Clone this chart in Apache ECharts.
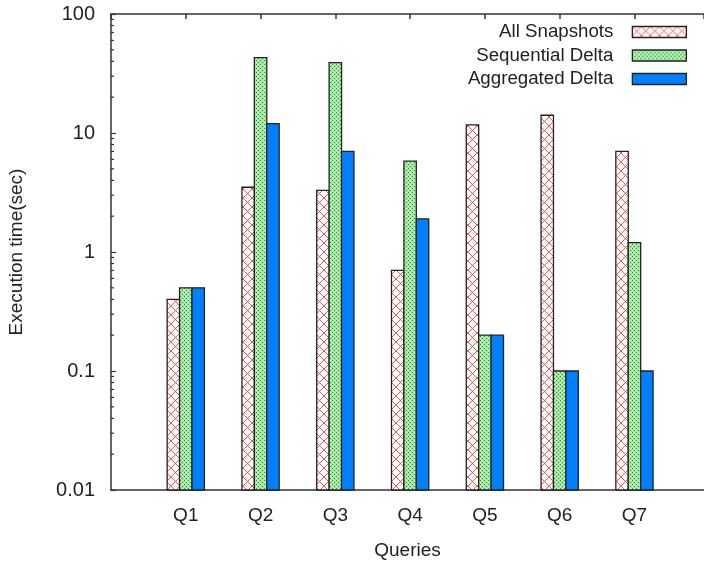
<!DOCTYPE html>
<html>
<head>
<meta charset="utf-8">
<script src="https://cdn.jsdelivr.net/npm/echarts@6/dist/echarts.min.js"></script>
<style>
  html, body { margin: 0; padding: 0; background: #fff; }
  #chart { width: 704px; height: 561px; }
</style>
</head>
<body>
<div id="chart"></div>
<script>
// Query execution times (seconds), log scale
const categories = ['Q1', 'Q2', 'Q3', 'Q4', 'Q5', 'Q6', 'Q7'];
const allSnapshots = [0.4, 3.5, 3.3, 0.7, 11.7, 14.1, 7.0];
const sequentialDelta = [0.5, 43, 39, 5.8, 0.2, 0.1, 1.2];
const aggregatedDelta = [0.5, 12, 7.0, 1.9, 0.2, 0.1, 0.1];
const seriesNames = ['All Snapshots', 'Sequential Delta', 'Aggregated Delta'];
const yTickLabels = ['0.01', '0.1', '1', '10', '100'];

const Y_MIN = 0.01, Y_MAX = 100;
const X_MAX = 7.93;
const FONT = '"Liberation Sans", Arial, sans-serif';
const INK = '#222';

// Hatch tiles used as bar fills
function redCrossTile() {
  const c = document.createElement('canvas');
  c.width = 9; c.height = 9;
  const g = c.getContext('2d');
  g.fillStyle = '#fff'; g.fillRect(0, 0, 9, 9);
  g.strokeStyle = 'rgba(255,40,40,0.8)';
  g.lineWidth = 1;
  g.beginPath();
  g.moveTo(0, 0); g.lineTo(9, 9);
  g.moveTo(9, 0); g.lineTo(0, 9);
  g.stroke();
  return c;
}
function greenCrossTile() {
  const c = document.createElement('canvas');
  c.width = 4; c.height = 4;
  const g = c.getContext('2d');
  g.fillStyle = '#9fe69f'; g.fillRect(0, 0, 4, 4);
  g.fillStyle = '#22aa22';
  g.fillRect(0, 0, 1, 1); g.fillRect(2, 2, 1, 1);
  g.fillStyle = '#effcef';
  g.fillRect(0, 2, 1, 1); g.fillRect(2, 0, 1, 1);
  return c;
}
const fills = [
  { image: redCrossTile(), repeat: 'repeat' },
  { image: greenCrossTile(), repeat: 'repeat' },
  '#0080ff'
];
const BAR_FRAC = 0.166;   // bar width as a fraction of one category slot

function makeRender(idx) {
  return function (params, api) {
    const x = api.value(0), v = api.value(1);
    const top = api.coord([x, v]);
    const base = api.coord([x, Y_MIN]);
    const w = api.size([1, 0])[0] * BAR_FRAC;
    const left = top[0] + (idx - 1.5) * w;
    return {
      type: 'rect',
      shape: { x: left, y: top[1], width: w, height: base[1] - top[1] },
      style: { fill: fills[idx], stroke: INK, lineWidth: 1.3 }
    };
  };
}

const seriesData = [allSnapshots, sequentialDelta, aggregatedDelta];
const series = seriesData.map((vals, i) => ({
  type: 'custom',
  name: seriesNames[i],
  xAxisIndex: 0,
  yAxisIndex: 0,
  renderItem: makeRender(i),
  itemStyle: { color: fills[i], borderColor: INK, borderWidth: 1.3 },
  data: vals.map((v, k) => [k + 1, v]),
  encode: { x: 0, y: 1 }
}));

const chart = echarts.init(document.getElementById('chart'), null, { renderer: 'canvas' });
chart.setOption({
  animation: false,
  backgroundColor: '#fff',
  grid: { left: 111, right: 0, top: 14, bottom: 71, containLabel: false, outerBoundsMode: 'none' },
  legend: {
    orient: 'vertical',
    right: 12,
    top: 17.5,
    align: 'right',
    icon: 'rect',
    itemWidth: 54,
    itemHeight: 11,
    itemGap: 4.5,
    textStyle: { fontFamily: FONT, fontSize: 18.7, color: INK, padding: [0, 14, 0, 0] },
    data: seriesNames.map((n, i) => ({
      name: n,
      itemStyle: { color: fills[i], borderColor: INK, borderWidth: 1.3 }
    }))
  },
  xAxis: [{
    type: 'value',
    min: 0,
    max: X_MAX,
    interval: 1,
    position: 'bottom',
    name: 'Queries',
    nameLocation: 'middle',
    nameGap: 51,
    nameTextStyle: { fontFamily: FONT, fontSize: 19, color: INK },
    axisLine: { show: true, lineStyle: { color: '#333', width: 1.5 } },
    axisTick: { show: false },
    splitLine: { show: false },
    axisLabel: {
      fontFamily: FONT, fontSize: 19, color: INK, margin: 16,
      showMaxLabel: false,
      formatter: v => categories[v - 1] || ''
    }
  }, {
    type: 'value',
    min: 0,
    max: X_MAX,
    interval: 1,
    position: 'top',
    axisLine: { show: true, lineStyle: { color: '#333', width: 1.5 } },
    axisTick: { show: true, inside: true, length: 5, lineStyle: { color: '#333', width: 1.5 } },
    axisLabel: { show: false },
    splitLine: { show: false }
  }],
  yAxis: {
    type: 'log',
    logBase: 10,
    min: Y_MIN,
    max: Y_MAX,
    name: 'Execution time(sec)',
    nameLocation: 'middle',
    nameRotate: 90,
    nameGap: 85,
    nameTextStyle: { fontFamily: FONT, fontSize: 19, color: INK },
    axisLine: { show: true, lineStyle: { color: '#333', width: 1.5 } },
    axisTick: { show: true, inside: true, length: 5, lineStyle: { color: '#333', width: 1.2 } },
    splitLine: { show: false },
    axisLabel: {
      fontFamily: FONT, fontSize: 20, color: INK, margin: 16,
      formatter: v => {
        const e = Math.round(Math.log10(v)) + 2;
        return yTickLabels[e] !== undefined ? yTickLabels[e] : '';
      }
    }
  },
  series: series
});

// Minor log ticks (2..9 within each decade) on the left axis
const minor = [];
const x0 = chart.convertToPixel({ xAxisIndex: 0 }, 0);
for (let d = -2; d < 2; d++) {
  for (let m = 2; m <= 9; m++) {
    const y = chart.convertToPixel({ yAxisIndex: 0 }, m * Math.pow(10, d));
    minor.push({
      type: 'line',
      shape: { x1: x0, y1: y, x2: x0 + 3, y2: y },
      style: { stroke: '#333', lineWidth: 1.2 },
      silent: true
    });
  }
}
chart.setOption({ graphic: minor });
</script>
</body>
</html>
